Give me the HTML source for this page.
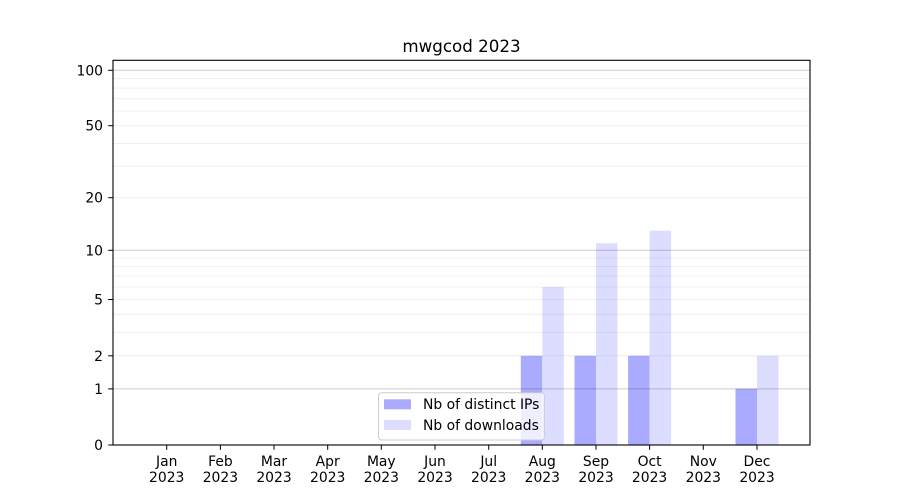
<!DOCTYPE html>
<html><head><meta charset="utf-8"><style>
html,body{margin:0;padding:0;background:#fff;}
svg{display:block;}
text{font-family:"DejaVu Sans","Liberation Sans",sans-serif;fill:#000;}
</style></head><body>
<svg width="900" height="500" viewBox="0 0 900 500" xmlns="http://www.w3.org/2000/svg">
<rect width="900" height="500" fill="#fff"/>
<!-- bars -->
<g>
<rect x="520.8" y="355.8" width="21.5" height="89.2" fill="#aaaaff"/>
<rect x="542.3" y="287.0" width="21.5" height="158.0" fill="#ddddff"/>
<rect x="574.5" y="355.8" width="21.5" height="89.2" fill="#aaaaff"/>
<rect x="596.0" y="243.2" width="21.5" height="201.8" fill="#ddddff"/>
<rect x="628.1" y="355.8" width="21.5" height="89.2" fill="#aaaaff"/>
<rect x="649.6" y="230.7" width="21.5" height="214.3" fill="#ddddff"/>
<rect x="735.5" y="388.7" width="21.5" height="56.3" fill="#aaaaff"/>
<rect x="757.0" y="355.8" width="21.5" height="89.2" fill="#ddddff"/>
</g>
<!-- minor grid -->
<g stroke="#000" stroke-opacity="0.08" stroke-width="0.8">
<line x1="113" x2="810" y1="355.8" y2="355.8"/>
<line x1="113" x2="810" y1="332.4" y2="332.4"/>
<line x1="113" x2="810" y1="314.3" y2="314.3"/>
<line x1="113" x2="810" y1="299.5" y2="299.5"/>
<line x1="113" x2="810" y1="287.0" y2="287.0"/>
<line x1="113" x2="810" y1="276.1" y2="276.1"/>
<line x1="113" x2="810" y1="266.6" y2="266.6"/>
<line x1="113" x2="810" y1="258.0" y2="258.0"/>
<line x1="113" x2="810" y1="197.7" y2="197.7"/>
<line x1="113" x2="810" y1="166.1" y2="166.1"/>
<line x1="113" x2="810" y1="143.4" y2="143.4"/>
<line x1="113" x2="810" y1="125.7" y2="125.7"/>
<line x1="113" x2="810" y1="111.1" y2="111.1"/>
<line x1="113" x2="810" y1="98.8" y2="98.8"/>
<line x1="113" x2="810" y1="88.1" y2="88.1"/>
<line x1="113" x2="810" y1="78.7" y2="78.7"/>
</g>
<!-- major grid -->
<g stroke="#000" stroke-opacity="0.2" stroke-width="1">
<line x1="113" x2="810" y1="388.9" y2="388.9"/>
<line x1="113" x2="810" y1="250.3" y2="250.3"/>
<line x1="113" x2="810" y1="70.3" y2="70.3"/>
</g>
<!-- axes frame -->
<rect x="113" y="60.3" width="697" height="384.7" fill="none" stroke="#000" stroke-width="1.1"/>
<!-- y ticks -->
<g stroke="#000" stroke-width="1">
<line x1="108.2" x2="113" y1="445" y2="445"/>
<line x1="108.2" x2="113" y1="388.9" y2="388.9"/>
<line x1="108.2" x2="113" y1="355.8" y2="355.8"/>
<line x1="108.2" x2="113" y1="299.5" y2="299.5"/>
<line x1="108.2" x2="113" y1="250.3" y2="250.3"/>
<line x1="108.2" x2="113" y1="197.7" y2="197.7"/>
<line x1="108.2" x2="113" y1="125.7" y2="125.7"/>
<line x1="108.2" x2="113" y1="70.3" y2="70.3"/>
</g>
<g font-size="13.9" text-anchor="end">
<text x="103" y="450">0</text>
<text x="103" y="394">1</text>
<text x="103" y="361">2</text>
<text x="103" y="304.5">5</text>
<text x="103" y="255.3">10</text>
<text x="103" y="202.7">20</text>
<text x="103" y="130.7">50</text>
<text x="103" y="75.3">100</text>
</g>
<!-- x ticks -->
<g stroke="#000" stroke-width="1">
<line x1="166.7" x2="166.7" y1="445" y2="449.8"/>
<line x1="220.4" x2="220.4" y1="445" y2="449.8"/>
<line x1="274.0" x2="274.0" y1="445" y2="449.8"/>
<line x1="327.7" x2="327.7" y1="445" y2="449.8"/>
<line x1="381.3" x2="381.3" y1="445" y2="449.8"/>
<line x1="435.0" x2="435.0" y1="445" y2="449.8"/>
<line x1="488.7" x2="488.7" y1="445" y2="449.8"/>
<line x1="542.3" x2="542.3" y1="445" y2="449.8"/>
<line x1="596.0" x2="596.0" y1="445" y2="449.8"/>
<line x1="649.6" x2="649.6" y1="445" y2="449.8"/>
<line x1="703.3" x2="703.3" y1="445" y2="449.8"/>
<line x1="757.0" x2="757.0" y1="445" y2="449.8"/>
</g>
<g font-size="13.9" text-anchor="middle">
<text x="166.7" y="466">Jan</text><text x="166.7" y="482">2023</text>
<text x="220.4" y="466">Feb</text><text x="220.4" y="482">2023</text>
<text x="274.0" y="466">Mar</text><text x="274.0" y="482">2023</text>
<text x="327.7" y="466">Apr</text><text x="327.7" y="482">2023</text>
<text x="381.3" y="466">May</text><text x="381.3" y="482">2023</text>
<text x="435.0" y="466">Jun</text><text x="435.0" y="482">2023</text>
<text x="488.7" y="466">Jul</text><text x="488.7" y="482">2023</text>
<text x="542.3" y="466">Aug</text><text x="542.3" y="482">2023</text>
<text x="596.0" y="466">Sep</text><text x="596.0" y="482">2023</text>
<text x="649.6" y="466">Oct</text><text x="649.6" y="482">2023</text>
<text x="703.3" y="466">Nov</text><text x="703.3" y="482">2023</text>
<text x="757.0" y="466">Dec</text><text x="757.0" y="482">2023</text>
</g>
<!-- title -->
<text x="461.5" y="52" font-size="16.7" text-anchor="middle">mwgcod 2023</text>
<!-- legend -->
<rect x="378.5" y="392.7" width="165.8" height="47.3" rx="3" ry="3" fill="#fff" fill-opacity="0.8" stroke="#ccc" stroke-width="1"/>
<rect x="384" y="399.3" width="27" height="10" fill="#aaaaff"/>
<rect x="384" y="420" width="27" height="10" fill="#ddddff"/>
<g font-size="13.9">
<text x="423" y="409">Nb of distinct IPs</text>
<text x="423" y="430">Nb of downloads</text>
</g>
</svg>
</body></html>
